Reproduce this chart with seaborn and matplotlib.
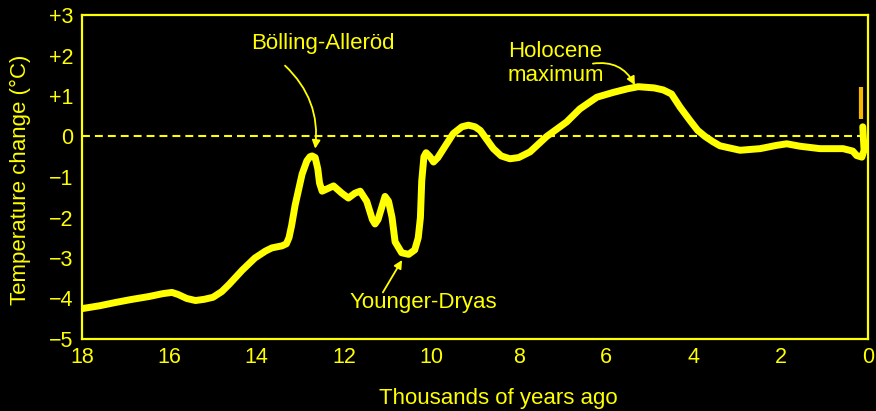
import numpy as np
import pandas as pd
import matplotlib.pyplot as plt
import seaborn as sns

# colours
YELLOW = '#ffff00'
ORANGE = '#f5b800'
BLACK = '#000000'

# temperature change curve (thousands of years ago, deg C)
kyr = [18.0, 17.6, 17.24, 16.9, 16.46, 16.15, 15.94, 15.8, 15.6, 15.4,
       15.2, 15.0, 14.8, 14.63, 14.33, 14.04, 13.8, 13.65, 13.42, 13.32,
       13.26, 13.2, 13.12, 12.96, 12.85, 12.78, 12.73, 12.66, 12.6, 12.56,
       12.5, 12.4, 12.24, 12.05, 11.9, 11.75, 11.63, 11.48, 11.35, 11.29,
       11.22, 11.17, 11.06, 10.98, 10.9, 10.83, 10.68, 10.52, 10.38, 10.3,
       10.25, 10.22, 10.17, 10.12, 10.03, 9.95, 9.85, 9.72, 9.5, 9.3,
       9.15, 9.0, 8.88, 8.58, 8.4, 8.2, 8.0, 7.74, 7.36, 6.9,
       6.6, 6.21, 5.83, 5.5, 5.26, 4.9, 4.69, 4.5, 4.3, 4.08,
       3.9, 3.73, 3.55, 3.39, 2.93, 2.47, 2.1, 1.86, 1.56, 1.1,
       0.57, 0.35, 0.26, 0.14, 0.09, 0.12]
temp = [-4.25, -4.18, -4.1, -4.03, -3.95, -3.88, -3.85, -3.9, -4.0, -4.05,
        -4.02, -3.97, -3.83, -3.65, -3.3, -3.0, -2.83, -2.75, -2.7, -2.65,
        -2.5, -2.2, -1.7, -0.93, -0.6, -0.5, -0.48, -0.52, -0.8, -1.15,
        -1.35, -1.3, -1.22, -1.4, -1.52, -1.4, -1.35, -1.6, -2.05, -2.16,
        -2.05, -1.87, -1.48, -1.6, -2.0, -2.6, -2.87, -2.91, -2.8, -2.5,
        -2.0, -1.1, -0.5, -0.4, -0.5, -0.63, -0.52, -0.3, 0.07, 0.24,
        0.28, 0.24, 0.15, -0.3, -0.48, -0.55, -0.52, -0.38, 0.0, 0.36,
        0.68, 0.97, 1.09, 1.18, 1.23, 1.2, 1.15, 1.05, 0.72, 0.4,
        0.15, 0.0, -0.13, -0.23, -0.34, -0.3, -0.22, -0.18, -0.24, -0.3,
        -0.3, -0.36, -0.47, -0.51, -0.34, 0.24]

x_ticks = [18, 16, 14, 12, 10, 8, 6, 4, 2, 0]
y_ticks = [3, 2, 1, 0, -1, -2, -3, -4, -5]
y_labels = ['+3', '+2', '+1', '0', '\u22121', '\u22122', '\u22123', '\u22124', '\u22125']

# modern range marker (orange bar near 0)
bar_x = 0.15
bar_lo, bar_hi = 0.44, 1.22

df = pd.DataFrame({'kyr': kyr, 'temp': temp})

sns.set_style("dark", {'axes.facecolor': BLACK, 'figure.facecolor': BLACK,
                       'axes.edgecolor': YELLOW, 'axes.grid': False})
plt.rcParams['font.family'] = ['Liberation Sans', 'DejaVu Sans']
plt.rcParams['text.color'] = YELLOW
plt.rcParams['xtick.color'] = YELLOW
plt.rcParams['ytick.color'] = YELLOW

fig = plt.figure(figsize=(8.76, 4.11), dpi=100)
ax = fig.add_axes([82 / 876, 72 / 411, 786 / 876, 324 / 411])
ax.set_facecolor(BLACK)

ax.axhline(0, color=YELLOW, lw=1.5, ls=(0, (3.8, 2.4)), zorder=1)
sns.lineplot(data=df, x='kyr', y='temp', sort=False, color=YELLOW,
             lw=5, ax=ax, zorder=3, solid_capstyle='round',
             solid_joinstyle='round')
ax.vlines(bar_x, bar_lo, bar_hi, color=ORANGE, lw=3, zorder=2)

ax.set_xlim(18, 0)
ax.set_ylim(-5, 3)
ax.set_xticks(x_ticks)
ax.set_xticklabels([str(t) for t in x_ticks])
ax.set_yticks(y_ticks)
ax.set_yticklabels(y_labels)
ax.tick_params(axis='both', direction='in', length=8.5, width=1.5,
               labelsize=15.5, colors=YELLOW)
ax.tick_params(axis='x', pad=6)
ax.tick_params(axis='y', pad=6)
for s in ax.spines.values():
    s.set_color(YELLOW)
    s.set_linewidth(1.6)
ax.set_xlabel('')
ax.set_ylabel('')

fig.text(498 / 876, 1 - 398 / 411, 'Thousands of years ago', color=YELLOW,
         fontsize=16, ha='center', va='center')
fig.text(20 / 876, 1 - 180 / 411, 'Temperature change (\u00b0C)', color=YELLOW,
         fontsize=16, ha='center', va='center', rotation=90)

arrow = dict(arrowstyle='-|>', color=YELLOW, lw=1.3, mutation_scale=12,
             shrinkA=0, shrinkB=0)
ax.annotate('B\u00f6lling-Aller\u00f6d', xy=(12.66, -0.3), xytext=(12.48, 2.3),
            fontsize=16, color=YELLOW, ha='center', va='center')
ax.annotate('', xy=(12.66, -0.3), xytext=(13.35, 1.75),
            arrowprops=dict(arrow, connectionstyle='arc3,rad=-0.25'))
ax.annotate('Younger-Dryas', xy=(10.67, -3.05), xytext=(10.19, -4.1),
            fontsize=16, color=YELLOW, ha='center', va='center')
ax.annotate('', xy=(10.67, -3.05), xytext=(11.11, -3.85),
            arrowprops=dict(arrow, connectionstyle='arc3,rad=0'))
ax.text(8.25, 1.8, 'Holocene\nmaximum', fontsize=16, color=YELLOW,
        ha='left', va='center', linespacing=1.15)
ax.annotate('', xy=(5.34, 1.27), xytext=(6.30, 1.8),
            arrowprops=dict(arrow, connectionstyle='arc3,rad=-0.35'))

fig.savefig('out.png', dpi=100, facecolor=BLACK)
